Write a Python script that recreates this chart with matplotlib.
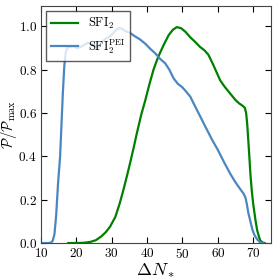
import matplotlib
matplotlib.use("Agg")
import matplotlib.pyplot as plt

plt.rcParams["mathtext.fontset"] = "cm"
plt.rcParams["font.family"] = "serif"
plt.rcParams["font.serif"] = ["DejaVu Serif"]

# SFI_2 (green)
n_sfi = [17.7, 20, 22, 23.9, 25.5, 27, 28.3, 29.5, 31, 32.2, 33.3, 34.3, 35.2, 36.2,
         37.1, 38.3, 39.5, 40.6, 41.8, 42.8, 43.7, 45, 46.1, 47.3, 48.4, 49.6, 50.8,
         52.2, 53.5, 55, 56.2, 57.3, 58.5, 59.6, 60.7, 62, 63.5, 65, 66, 66.9, 67.6,
         68, 68.3, 68.6, 68.9, 69.2, 69.6, 70, 70.6, 71.1, 71.6, 72, 72.6, 73.2]
p_sfi = [0.0, 0.0, 0.001, 0.005, 0.013, 0.03, 0.05, 0.075, 0.12, 0.18, 0.245, 0.31,
         0.37, 0.44, 0.507, 0.59, 0.66, 0.73, 0.80, 0.845, 0.88, 0.925, 0.96, 0.985,
         0.997, 0.992, 0.976, 0.95, 0.93, 0.905, 0.89, 0.87, 0.83, 0.79, 0.75, 0.72,
         0.69, 0.66, 0.645, 0.635, 0.625, 0.60, 0.55, 0.476, 0.40, 0.32, 0.24, 0.18,
         0.11, 0.06, 0.03, 0.012, 0.003, 0.0]

# SFI_2^PEI (blue)
n_pei = [10, 12, 12.8, 13.3, 13.8, 14.3, 14.8, 15.4, 15.8, 16.2, 16.6, 17.0, 17.4,
         18, 19, 20.2, 21.2, 22.2, 23.3, 24.3, 25.2, 26.2, 27.3, 28.5, 29.5, 30.5,
         31.3, 32, 32.8, 34, 35.2, 36.5, 38, 39.5, 41, 42.3, 43.7, 45.1, 46.3, 47.5,
         48.7, 49.9, 51, 52.2, 53.6, 55, 56.7, 58.4, 60, 61.7, 63.5, 65, 66.5, 67.2,
         67.8, 68.2, 68.6, 69.2, 69.8, 70.4, 71.2, 72, 72.8]
p_pei = [0.0, 0.0, 0.002, 0.01, 0.04, 0.13, 0.27, 0.40, 0.55, 0.70, 0.82, 0.88,
         0.90, 0.905, 0.91, 0.90, 0.905, 0.915, 0.925, 0.92, 0.91, 0.905, 0.93,
         0.945, 0.955, 0.97, 0.985, 0.993, 0.99, 0.978, 0.97, 0.955, 0.94, 0.92,
         0.895, 0.876, 0.85, 0.83, 0.80, 0.76, 0.735, 0.72, 0.70, 0.676, 0.63,
         0.585, 0.53, 0.476, 0.43, 0.375, 0.32, 0.28, 0.245, 0.23, 0.21, 0.18,
         0.14, 0.10, 0.06, 0.035, 0.015, 0.003, 0.0]

fig = plt.figure(figsize=(2.77, 2.8), dpi=100)
ax = fig.add_axes([0.148, 0.132, 0.830, 0.847])
ax.plot(n_sfi, p_sfi, color="#008000", lw=1.6, label=r"$\mathrm{SFI}_2$")
ax.plot(n_pei, p_pei, color="#4a87c0", lw=1.6, label=r"$\mathrm{SFI}_2^{\mathrm{PEI}}$")

ax.set_xlim(10, 75)
ax.set_ylim(0, 1.095)
ax.set_xticks([10, 20, 30, 40, 50, 60, 70])
ax.set_yticks([0.0, 0.2, 0.4, 0.6, 0.8, 1.0])
ax.set_yticklabels([r"$0.0$", r"$0.2$", r"$0.4$", r"$0.6$", r"$0.8$", r"$1.0$"])
ax.set_xticklabels([r"$10$", r"$20$", r"$30$", r"$40$", r"$50$", r"$60$", r"$70$"])
ax.tick_params(direction="in", top=True, right=True, labelsize=9.5, length=4, pad=3)
for s in ax.spines.values():
    s.set_color("#444444")
ax.set_xlabel(r"$\Delta N_*$", fontsize=13, labelpad=0)
ax.set_ylabel(r"$\mathcal{P}/\mathcal{P}_{\max}$", fontsize=10.5)
ax.yaxis.set_label_coords(-0.095, 0.5)

leg = ax.legend(loc="upper left", fontsize=9, fancybox=False, handlelength=2.2,
                borderaxespad=0.4)
leg.get_frame().set_edgecolor("#333333")

fig.savefig("out.png", dpi=100)
